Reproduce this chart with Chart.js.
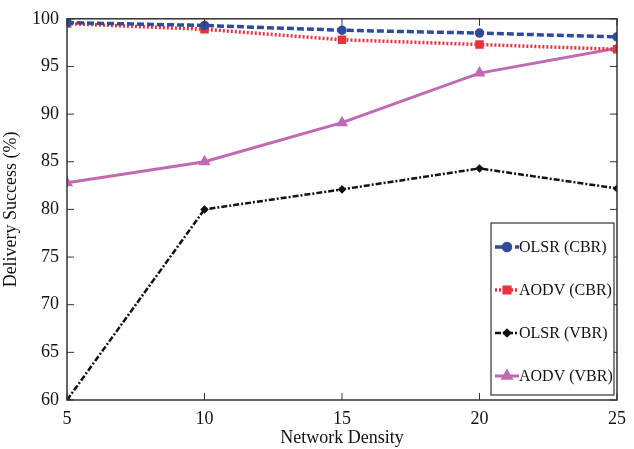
<!DOCTYPE html>
<html>
<head>
<meta charset="utf-8">
<script src="https://cdn.jsdelivr.net/npm/chart.js@4"></script>
<style>
  html, body { margin: 0; padding: 0; background: #fff; }
  #wrap { width: 634px; height: 449px; }
</style>
</head>
<body>
<div id="wrap"><canvas id="chart" width="634" height="449"></canvas></div>
<script>
// Data
const density = [5, 10, 15, 20, 25];
const olsrCbr = [99.6, 99.3, 98.8, 98.5, 98.1];
const aodvCbr = [99.5, 98.9, 97.8, 97.3, 96.8];
const olsrVbr = [60.0, 80.0, 82.1, 84.3, 82.2];
const aodvVbr = [82.8, 85.0, 89.1, 94.3, 96.9];
const yTicks = [60, 65, 70, 75, 80, 85, 90, 95, 100];
const xTicks = [5, 10, 15, 20, 25];

const serif = "'Liberation Serif', 'DejaVu Serif', serif";

function pts(arr) {
  return arr.map((v, i) => ({ x: density[i], y: v }));
}

// frame, inward ticks and legend box
const framePlugin = {
  id: 'frame',
  afterDatasetsDraw(chart) {
    const { ctx, chartArea: a, scales } = chart;
    ctx.save();
    ctx.strokeStyle = '#333';
    ctx.lineWidth = 1.5;
    ctx.strokeRect(a.left, a.top, a.right - a.left, a.bottom - a.top);
    ctx.lineWidth = 1;
    xTicks.forEach(t => {
      const px = scales.x.getPixelForValue(t);
      ctx.beginPath();
      ctx.moveTo(px, a.bottom); ctx.lineTo(px, a.bottom - 7);
      ctx.moveTo(px, a.top); ctx.lineTo(px, a.top + 7);
      ctx.stroke();
    });
    yTicks.forEach(t => {
      const py = scales.y.getPixelForValue(t);
      ctx.beginPath();
      ctx.moveTo(a.left, py); ctx.lineTo(a.left + 7, py);
      ctx.moveTo(a.right, py); ctx.lineTo(a.right - 7, py);
      ctx.stroke();
    });

    // legend
    const bw = 123, bh = 172;
    const bx = a.right - bw - 3, by = a.bottom - bh - 5;
    ctx.fillStyle = '#fff';
    ctx.fillRect(bx, by, bw, bh);
    ctx.strokeStyle = '#333';
    ctx.lineWidth = 1.2;
    ctx.strokeRect(bx, by, bw, bh);
    ctx.font = '16px ' + serif;
    ctx.textBaseline = 'middle';
    chart.data.datasets.forEach((ds, i) => {
      const cy = by + 24 + i * 43;
      ctx.strokeStyle = ds.borderColor;
      ctx.lineWidth = ds.borderWidth;
      ctx.setLineDash(ds.borderDash || []);
      ctx.beginPath();
      ctx.moveTo(bx + 4, cy); ctx.lineTo(bx + 28, cy);
      ctx.stroke();
      ctx.setLineDash([]);
      ctx.fillStyle = ds.pointBackgroundColor;
      ctx.strokeStyle = ds.borderColor;
      Chart.helpers.drawPoint(ctx, {
        pointStyle: ds.pointStyle, radius: ds.pointRadius + 0.5, borderWidth: 1
      }, bx + 16, cy);
      ctx.fillStyle = '#111';
      ctx.fillText(ds.label, bx + 28, cy + 1);
    });
    ctx.restore();
  }
};

new Chart(document.getElementById('chart'), {
  type: 'line',
  data: {
    datasets: [
      {
        label: 'OLSR (CBR)', data: pts(olsrCbr),
        borderColor: '#2e4b9e', pointBackgroundColor: '#2e4b9e',
        borderWidth: 3.5, borderDash: [7, 3], pointStyle: 'circle', pointRadius: 3
      },
      {
        label: 'AODV (CBR)', data: pts(aodvCbr),
        borderColor: '#e8323a', pointBackgroundColor: '#e8323a',
        borderWidth: 3.5, borderDash: [2, 2], pointStyle: 'rect', pointRadius: 3.5
      },
      {
        label: 'OLSR (VBR)', data: pts(olsrVbr),
        borderColor: '#111', pointBackgroundColor: '#111',
        borderWidth: 2.5, borderDash: [6, 2, 2, 2], pointStyle: 'rectRot', pointRadius: 2.5
      },
      {
        label: 'AODV (VBR)', data: pts(aodvVbr),
        borderColor: '#c169b3', pointBackgroundColor: '#c169b3',
        borderWidth: 3, pointStyle: 'triangle', pointRadius: 4
      }
    ]
  },
  options: {
    responsive: false,
    animation: false,
    layout: { padding: { top: 15, right: 17, bottom: 0, left: 0 } },
    plugins: { legend: { display: false }, tooltip: { enabled: false } },
    scales: {
      x: {
        type: 'linear', min: 5, max: 25,
        afterBuildTicks: s => { s.ticks = xTicks.map(v => ({ value: v })); },
        afterFit: s => { s.height = 49; },
        grid: { display: false, drawTicks: false },
        border: { display: false },
        ticks: { color: '#111', font: { family: serif, size: 18 }, padding: 8, maxRotation: 0 },
        title: { display: true, text: 'Network Density', color: '#111',
                 font: { family: serif, size: 18 }, padding: { top: 0, bottom: 0 } }
      },
      y: {
        min: 60, max: 100,
        afterBuildTicks: s => { s.ticks = yTicks.map(v => ({ value: v })); },
        afterFit: s => { s.width = 67; },
        grid: { display: false, drawTicks: false },
        border: { display: false },
        ticks: { color: '#111', font: { family: serif, size: 18 }, padding: 8 },
        title: { display: true, text: 'Delivery Success (%)', color: '#111',
                 font: { family: serif, size: 18 }, padding: { top: 0, bottom: 0 } }
      }
    }
  },
  plugins: [framePlugin]
});
</script>
</body>
</html>
